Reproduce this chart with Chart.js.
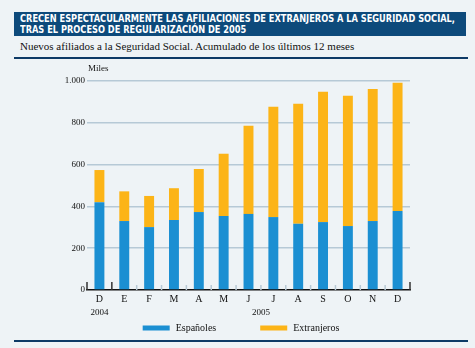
<!DOCTYPE html>
<html>
<head>
<meta charset="utf-8">
<script src="https://cdn.jsdelivr.net/npm/chart.js@4.4.1/dist/chart.umd.min.js"></script>
<style>
  body { margin: 0; background: #eef3f6; width: 475px; height: 348px; overflow: hidden; }
  #title {
    position: absolute; left: 14px; top: 12px; width: 452px; height: 24px;
    background: #0d4a7b; color: #fff;
    font: bold 10px 'DejaVu Sans Condensed', 'DejaVu Sans', sans-serif;
  }
  #title span { position: absolute; left: 6px; white-space: nowrap; transform-origin: 0 0; }
  #t1 { top: 1px; }
  #t2 { top: 12px; }
  #sub {
    position: absolute; left: 20px; top: 40px;
    font: 11px 'Liberation Serif', serif; color: #111;
  }
  #line1 { position: absolute; left: 14px; top: 57px; width: 454px; height: 1.5px; background: #0d3a66; }
  #line2 { position: absolute; left: 14px; top: 340px; width: 454px; height: 1.5px; background: #0d3a66; }
  #wrap { position: absolute; left: 14px; top: 60px; }
</style>
</head>
<body>
<div id="title"><span id="t1">CRECEN ESPECTACULARMENTE LAS AFILIACIONES DE EXTRANJEROS A LA SEGURIDAD SOCIAL,</span><span id="t2">TRAS EL PROCESO DE REGULARIZACIÓN DE 2005</span></div>
<div id="sub">Nuevos afiliados a la Seguridad Social. Acumulado de los últimos 12 meses</div>
<div id="line1"></div>
<div id="wrap"><canvas id="myChart" width="454" height="280"></canvas></div>
<div id="line2"></div>
<script>
const months = ['D', 'E', 'F', 'M', 'A', 'M', 'J', 'J', 'A', 'S', 'O', 'N', 'D']
const espanoles = [420, 330, 301, 335, 373, 354, 364, 349, 317, 325, 306, 330, 378]
const extranjeros = [154, 142, 149, 152, 206, 298, 422, 528, 574, 624, 624, 632, 614]
const years = ['2004', '2005']
const yearStart = [0, 1]
const yearEnd = [0, 12]
const yTicks = [0, 200, 400, 600, 800, 1000]

const serif = "'Liberation Serif', 'Times New Roman', serif"

// titulo en letra estrecha: se comprime al ancho del original
let t1 = document.getElementById('t1')
let t2 = document.getElementById('t2')
let k = 435 / t1.getBoundingClientRect().width
t1.style.transform = 'scaleX(' + k + ')'
t2.style.transform = 'scaleX(' + k + ')'

// marcas del eje x, etiqueta "Miles", años y leyenda
const extras = {
    id: 'extras',
    afterDraw(chart) {
        const ctx = chart.ctx
        const x = chart.scales.x
        const area = chart.chartArea
        ctx.save()
        for (let i = 0; i <= months.length; i++) {
            let px
            if (i === 0) px = area.left
            else if (i === months.length) px = area.right
            else px = (x.getPixelForValue(i - 1) + x.getPixelForValue(i)) / 2
            const dark = yearStart.includes(i) || i === months.length
            ctx.strokeStyle = dark ? '#333' : '#b8cad6'
            ctx.lineWidth = 1.5
            ctx.beginPath()
            ctx.moveTo(px, area.bottom)
            ctx.lineTo(px, area.bottom - (dark ? 8 : 5))
            ctx.stroke()
        }
        ctx.fillStyle = '#111'
        ctx.font = '9px ' + serif
        ctx.textAlign = 'left'
        ctx.textBaseline = 'middle'
        ctx.fillText('Miles', area.left + 1, area.top - 12)
        ctx.textAlign = 'center'
        years.forEach((y, j) => {
            const cx = (x.getPixelForValue(yearStart[j]) + x.getPixelForValue(yearEnd[j])) / 2
            ctx.fillText(y, cx, area.bottom + 23)
        })

        // leyenda
        ctx.font = '10px ' + serif
        ctx.textAlign = 'left'
        const sets = chart.data.datasets
        const boxW = 27, gap = 44
        const widths = sets.map(d => boxW + 6 + ctx.measureText(d.label).width)
        let lx = chart.width / 2 - (widths.reduce((a, b) => a + b, 0) + gap * (sets.length - 1)) / 2
        const ly = area.bottom + 38
        sets.forEach((d, j) => {
            ctx.fillStyle = d.backgroundColor
            ctx.fillRect(lx, ly - 2.5, boxW, 5)
            ctx.fillStyle = '#111'
            ctx.fillText(d.label, lx + boxW + 6, ly)
            lx += widths[j] + gap
        })
        ctx.restore()
    }
}

const dataset = {
    labels: months,
    datasets: [{
        label: 'Españoles',
        data: espanoles,
        backgroundColor: '#1b8fd2',
        barPercentage: 0.4,
        categoryPercentage: 1
    }, {
        label: 'Extranjeros',
        data: extranjeros,
        backgroundColor: '#fcb417',
        barPercentage: 0.4,
        categoryPercentage: 1
    }]
}

const config = {
    type: 'bar',
    data: dataset,
    plugins: [extras],
    options: {
        responsive: false,
        animation: false,
        layout: { padding: { top: 21, right: 58, left: 0, bottom: 0 } },
        plugins: {
            tooltip: { enabled: false },
            legend: { display: false }
        },
        scales: {
            x: {
                stacked: true,
                grid: { display: false, drawTicks: false },
                border: { display: true, color: '#111', width: 1.5 },
                ticks: { color: '#111', padding: 3, font: { family: serif, size: 10 } },
                afterFit: (s) => { s.height = 50 }
            },
            y: {
                stacked: true,
                min: 0, max: 1000,
                afterBuildTicks: (s) => { s.ticks = yTicks.map(v => ({ value: v })) },
                grid: {
                    drawTicks: false,
                    color: (c) => c.tick && c.tick.value === 0 ? 'rgba(0,0,0,0)' : '#b6c9d6',
                    lineWidth: 1.5
                },
                border: { display: false },
                ticks: {
                    padding: 2, color: '#111', font: { family: serif, size: 9 },
                    callback: (v) => v >= 1000 ? Math.floor(v / 1000) + '.' + String(v % 1000).padStart(3, '0') : v
                },
                afterFit: (s) => { s.width = 73 }
            }
        }
    }
}

const chart = new Chart(document.getElementById('myChart'), config)
</script>
</body>
</html>
